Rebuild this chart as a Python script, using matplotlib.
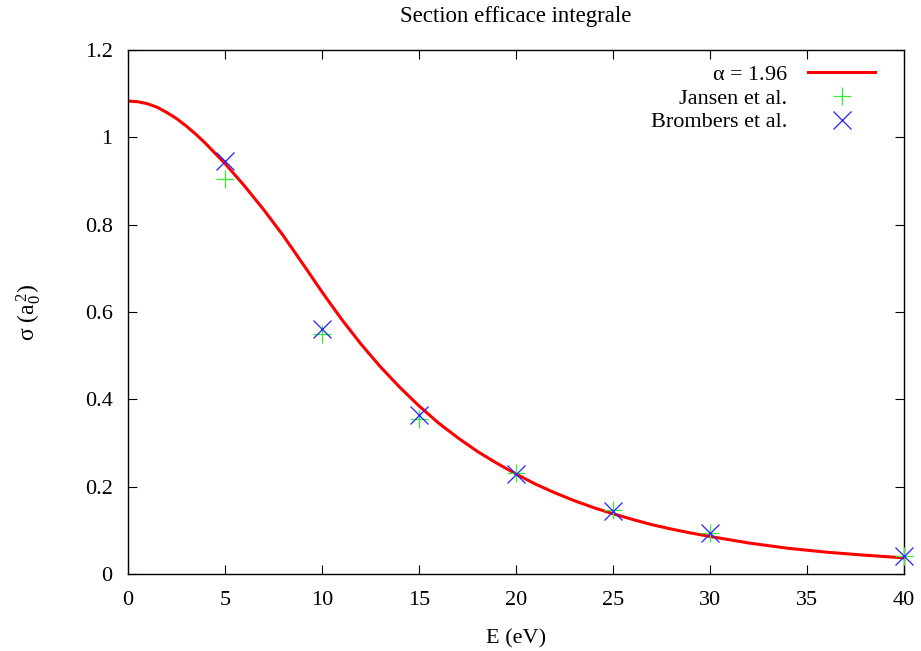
import numpy as np
import matplotlib.pyplot as plt
from matplotlib.ticker import FuncFormatter

plt.rcParams['font.family'] = ['Liberation Serif', 'DejaVu Serif']
plt.rcParams['mathtext.fontset'] = 'custom'
plt.rcParams['mathtext.rm'] = 'Liberation Serif'
plt.rcParams['mathtext.it'] = 'Liberation Serif'

# fitted curve (alpha = 1.96)
e_fit = [0, 0.5, 1, 1.5, 2, 2.5, 3, 3.5, 4, 5, 6, 7, 8, 9, 10, 11, 12, 13, 14, 15,
         16, 17, 18, 19, 20, 21, 22, 23, 24, 25, 26, 27, 28, 29, 30, 32, 34, 36, 38, 40]
sigma_fit = [1.083, 1.0815, 1.077, 1.069, 1.057, 1.043, 1.026, 1.007, 0.986, 0.940,
             0.889, 0.834, 0.775, 0.711, 0.646, 0.584, 0.527, 0.475, 0.428, 0.385,
             0.346, 0.312, 0.281, 0.254, 0.229, 0.206, 0.186, 0.168, 0.152, 0.138,
             0.125, 0.113, 0.103, 0.094, 0.086, 0.071, 0.059, 0.050, 0.043, 0.037]

# experimental points
e_jansen = [5, 10, 15, 20, 25, 30, 40]
sigma_jansen = [0.905, 0.549, 0.355, 0.231, 0.147, 0.093, 0.041]

e_brombers = [5, 10, 15, 20, 25, 30, 40]
sigma_brombers = [0.946, 0.562, 0.364, 0.228, 0.145, 0.093, 0.041]

fig = plt.figure(figsize=(9.21, 6.51), dpi=100)
ax = fig.add_axes([128/921, 1 - 574/651, 776/921, 524/651])

ax.plot(e_fit, sigma_fit, color='#ff0000', lw=2.2, label=r'$\alpha$ = 1.96',
        zorder=2, solid_joinstyle='round')
ax.plot(e_jansen, sigma_jansen, ls='none', marker='+', ms=13, mew=0.9,
        color='#33ee33', label='Jansen et al.', zorder=3, clip_on=False)
ax.plot(e_brombers, sigma_brombers, ls='none', marker='x', ms=12.5, mew=0.9,
        color='#2222ff', label='Brombers et al.', zorder=4, clip_on=False)

ax.set_xlim(0, 40)
ax.set_ylim(0, 1.2)
ax.set_xticks(np.arange(0, 41, 5))
ax.set_yticks(np.arange(0, 1.21, 0.2))
ax.yaxis.set_major_formatter(FuncFormatter(lambda v, p: '%g' % round(v, 2)))
ax.tick_params(direction='in', length=6.5, width=0.8, top=True, right=True,
               labelsize=16)
ax.tick_params(axis='x', pad=12)
ax.tick_params(axis='y', pad=11)
for s in ax.spines.values():
    s.set_linewidth(1.0)

ax.set_title('Section efficace integrale', fontsize=16.5, pad=20)
ax.set_xlabel('E (eV)', fontsize=16, labelpad=14)
ax.set_ylabel(r'$\sigma$ (a$_0^{\,2}$)', fontsize=17, labelpad=30)

ax.legend(loc='upper right', bbox_to_anchor=(0.9626, 0.973), frameon=False,
          markerfirst=False, fontsize=16, handlelength=3.0, handletextpad=0.95,
          labelspacing=0.15, borderpad=0, borderaxespad=0, numpoints=1)

fig.savefig('out.png', dpi=100)
